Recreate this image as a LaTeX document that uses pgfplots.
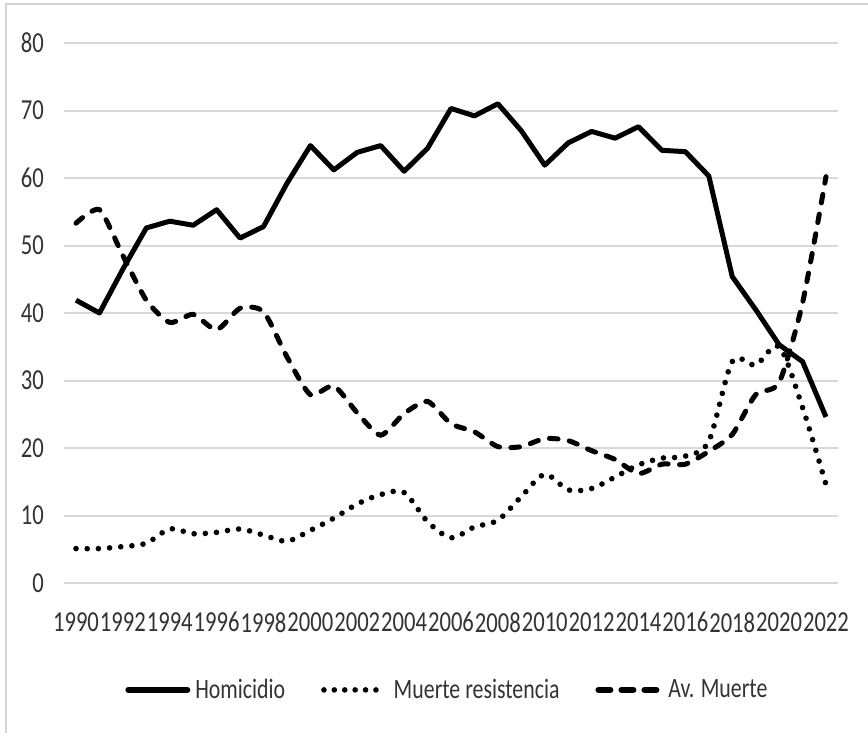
\documentclass[border=0pt]{standalone}
\usepackage{fontspec}
\setmainfont{Carlito}[FakeStretch=0.78]
\usepackage{pgfplots}
\pgfplotsset{compat=1.18}
\usepackage{pgfplotstable}
\pgfplotstableread{
year hom mr av
1990 41.9 5.1 53.3
1991 40.0 5.1 55.3
1992 46.5 5.4 48.5
1993 52.6 5.9 41.9
1994 53.6 8.0 38.6
1995 53.0 7.3 39.8
1996 55.3 7.5 37.5
1997 51.1 8.0 40.7
1998 52.8 7.1 40.2
1999 59.2 6.2 33.5
2000 64.8 7.8 27.9
2001 61.2 9.6 29.2
2002 63.8 11.7 25.2
2003 64.8 13.1 21.9
2004 61.0 13.4 25.1
2005 64.4 9.1 26.9
2006 70.3 6.7 23.6
2007 69.2 8.3 22.4
2008 71.0 9.3 20.2
2009 67.0 12.8 20.2
2010 61.9 16.1 21.4
2011 65.2 13.8 21.1
2012 66.9 14.0 19.6
2013 65.9 15.7 18.3
2014 67.6 17.5 16.2
2015 64.1 18.5 17.6
2016 63.9 18.8 17.6
2017 60.3 21.0 19.5
2018 45.4 32.8 22.0
2019 40.5 32.3 27.9
2020 35.3 35.0 29.7
2021 32.8 26.0 41.5
2022 24.6 14.6 60.2
}\datatable
\definecolor{gridgray}{HTML}{D9D9D9}
\definecolor{framegray}{HTML}{D4D4D4}
\definecolor{txt}{HTML}{333333}
\begin{document}
\begin{tikzpicture}
\useasboundingbox (0,0) rectangle (434bp,366.5bp);
\fill[white] (0,0) rectangle (434bp,366.5bp);
\draw[color=framegray, line width=1bp] (3bp,0) -- (3bp,364.25bp) -- (434bp,364.25bp);
\begin{axis}[
  at={(32.15bp,75bp)}, anchor=south west,
  scale only axis, width=386.7bp, height=270bp,
  xmin=1989.5, xmax=2022.5, ymin=0, ymax=80,
  enlargelimits=false,
  axis line style={draw=none},
  tick style={draw=none},
  ytick={0,10,...,80},
  xtick={1990,1992,...,2022},
  ymajorgrids,
  grid style={color=gridgray, line width=1bp},
  /pgf/number format/assume math mode=true,
  /pgf/number format/1000 sep={},
  tick label style={font=\fontsize{14.5bp}{16bp}\selectfont, text=txt, inner sep=0pt},
  yticklabel style={xshift=-10bp},
  xticklabel style={yshift=-14.5bp},
  legend style={at={(0.494,-0.198)}, anchor=center, draw=none, fill=none,
    font=\fontsize{14bp}{16bp}\selectfont, text=txt,
    nodes={inner sep=0pt},
    /tikz/every odd column/.append style={column sep=2.5bp},
    /tikz/every even column/.append style={column sep=18bp}},
  legend columns=3,
  legend image code/.code={\draw[#1] (0bp,0bp) -- (32.5bp,0bp);},
]
\addplot[black, line width=2.5bp, line join=round,
  legend image code/.code={\draw[black, line width=3bp, line cap=round] (1.5bp,0bp) -- (31bp,0bp);}] table[x=year, y=hom] {\datatable};
\addlegendentry{Homicidio}
\addplot[black, line width=2.8bp, line cap=round, dash pattern=on 0bp off 5.6bp, smooth, tension=0.5,
  legend image code/.code={\draw[black, line width=2.8bp, line cap=round, dash pattern=on 0bp off 5.2bp] (1.5bp,0bp) -- (32.5bp,0bp);}] table[x=year, y=mr] {\datatable};
\addlegendentry{Muerte resistencia}
\addplot[black, line width=2.5bp, line cap=round, dash pattern=on 4.3bp off 5.7bp, smooth, tension=0.4,
  legend image code/.code={\draw[black, line width=3bp, line cap=round, dash pattern=on 6bp off 5.5bp] (1.5bp,0bp) -- (32.5bp,0bp);}] table[x=year, y=av] {\datatable};
\addlegendentry{Av. Muerte}
\end{axis}
\end{tikzpicture}
\end{document}
